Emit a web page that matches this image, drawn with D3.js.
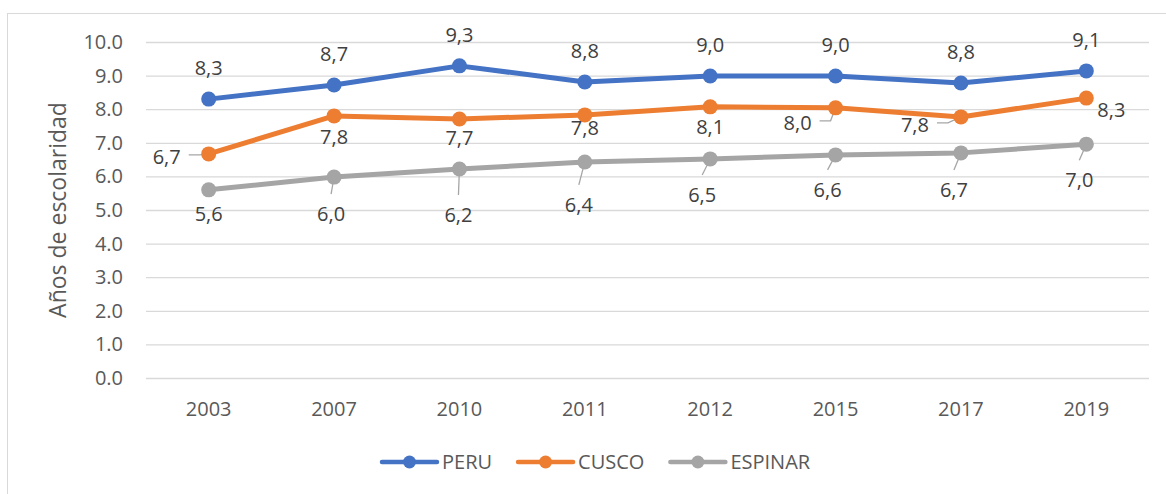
<!DOCTYPE html>
<html>
<head>
<meta charset="utf-8">
<script src="https://cdn.jsdelivr.net/npm/d3@7"></script>
<style>
  body { margin: 0; background: #fff; }
  text { font-family: "Open Sans", sans-serif; }
</style>
</head>
<body>
<svg id="chart" width="1166" height="494"></svg>
<script>
// values
const years = ["2003", "2007", "2010", "2011", "2012", "2015", "2017", "2019"]
const peru = [8.30, 8.72, 9.29, 8.81, 8.99, 8.99, 8.78, 9.14]
const cusco = [6.67, 7.80, 7.71, 7.83, 8.07, 8.04, 7.77, 8.33]
const espinar = [5.60, 5.98, 6.22, 6.43, 6.52, 6.64, 6.70, 6.96]
const yTicks = [0, 1, 2, 3, 4, 5, 6, 7, 8, 9, 10]
const yTitle = "Años de escolaridad"

// label placement: [dx, dy, leader] relative to the point, leader 0 none, 1 straight, 2 elbow
const peruLabels = years.map(() => [0, -31, 0])
const cuscoLabels = [[-42, 3, 2], [0, 21, 0], [0, 19, 0], [0, 13, 0], [0, 20, 0], [-38, 15, 2], [-46, 8, 2], [25, 12, 0]]
const espinarLabels = [[0, 24, 0], [-3, 37, 1], [-1, 46, 1], [-6, 43, 1], [-8, 36, 1], [-8, 35, 1], [-7, 37, 1], [-7, 36, 1]]

const series = [
  { name: "PERU", values: peru, color: "#4472C4", labels: peruLabels },
  { name: "CUSCO", values: cusco, color: "#ED7D31", labels: cuscoLabels },
  { name: "ESPINAR", values: espinar, color: "#A5A5A5", labels: espinarLabels }
]

const svg = d3.select("#chart")
const plotLeft = 146, plotRight = 1149, plotTop = 42, plotBottom = 378

svg.append("rect")
  .attr("x", 7.5).attr("y", 13.5)
  .attr("width", 1200).attr("height", 600)
  .attr("fill", "none")
  .attr("stroke", "#D9D9D9")

const x = d3.scaleBand().domain(years).range([plotLeft, plotRight]).padding(0)
const y = d3.scaleLinear().domain([0, 10]).range([plotBottom, plotTop])
const fmt = v => d3.format(".1f")(v).replace(".", ",")

// grid + y ticks
const gy = svg.append("g")
  .attr("transform", "translate(" + plotLeft + ",0)")
  .call(d3.axisLeft(y).tickValues(yTicks).tickFormat(d3.format(".1f"))
    .tickSize(-(plotRight - plotLeft)).tickPadding(23))
gy.select(".domain").remove()
gy.selectAll(".tick line").attr("stroke", "#D9D9D9").attr("stroke-width", 1.3)
gy.selectAll(".tick text").attr("fill", "#595959").style("font-size", "20px")

const gx = svg.append("g")
  .attr("transform", "translate(0," + plotBottom + ")")
  .call(d3.axisBottom(x).tickSize(0).tickPadding(24))
gx.select(".domain").remove()
gx.selectAll(".tick text").attr("fill", "#595959").style("font-size", "20px")

svg.append("text")
  .attr("transform", "translate(58," + (plotTop + plotBottom) / 2 + ") rotate(-90)")
  .attr("text-anchor", "middle")
  .attr("dy", "0.35em")
  .attr("fill", "#595959")
  .style("font-size", "23px")
  .text(yTitle)

const cx = d => x(d) + x.bandwidth() / 2
const line = d3.line()
  .x((d, i) => cx(years[i]))
  .y(d => y(d))

const leaders = svg.append("g")
const lines = svg.append("g")
const labels = svg.append("g")

series.forEach(s => {
  lines.append("path")
    .datum(s.values)
    .attr("fill", "none")
    .attr("stroke", s.color)
    .attr("stroke-width", 5)
    .attr("stroke-linejoin", "round")
    .attr("d", line)

  lines.selectAll(null)
    .data(s.values)
    .enter().append("circle")
    .attr("cx", (d, i) => cx(years[i]))
    .attr("cy", d => y(d))
    .attr("r", 7.5)
    .attr("fill", s.color)

  s.values.forEach((v, i) => {
    const px = cx(years[i]), py = y(v)
    const [dx, dy, leader] = s.labels[i]
    const lx = px + dx, ly = py + dy
    const t = labels.append("text")
      .attr("x", lx).attr("y", ly)
      .attr("dy", "0.36em")
      .attr("text-anchor", "middle")
      .attr("fill", "#404040")
      .style("font-size", "20px")
      .text(fmt(v))
    if (leader === 1) {
      leaders.append("line")
        .attr("x1", px).attr("y1", py)
        .attr("x2", lx).attr("y2", ly - 20)
        .attr("stroke", "#A6A6A6").attr("stroke-width", 1.3)
    } else if (leader === 2) {
      const w = t.node().getBBox().width
      const sx = lx + w / 2 + 8
      leaders.append("polyline")
        .attr("points", [[sx, ly - 2], [sx + 11, ly - 2], [px, py]].map(p => p.join(",")).join(" "))
        .attr("fill", "none")
        .attr("stroke", "#A6A6A6").attr("stroke-width", 1.3)
    }
  })
})

// legend
const legend = svg.append("g").attr("transform", "translate(0,462)")
let lxPos = 382
series.forEach(s => {
  legend.append("line")
    .attr("x1", lxPos).attr("x2", lxPos + 55)
    .attr("stroke", s.color).attr("stroke-width", 4.5)
    .attr("stroke-linecap", "round")
  legend.append("circle")
    .attr("cx", lxPos + 27.5).attr("r", 6.5)
    .attr("fill", s.color)
  const t = legend.append("text")
    .attr("x", lxPos + 60)
    .attr("dy", "0.36em")
    .attr("fill", "#595959")
    .style("font-size", "20px")
    .text(s.name)
  lxPos += 60 + t.node().getBBox().width + 26
})
</script>
</body>
</html>
